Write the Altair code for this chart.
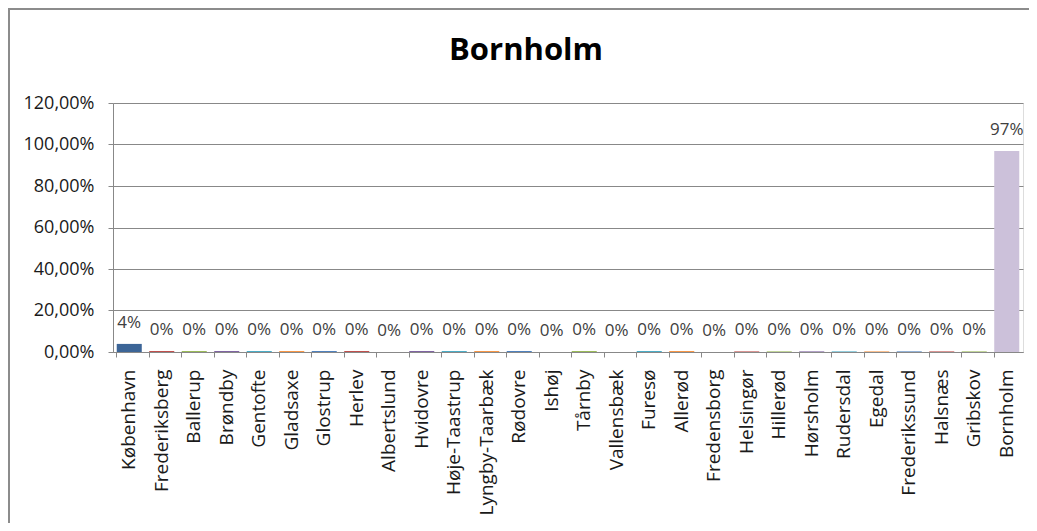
import altair as alt
import pandas as pd

kommuner = ["København", "Frederiksberg", "Ballerup", "Brøndby", "Gentofte", "Gladsaxe",
            "Glostrup", "Herlev", "Albertslund", "Hvidovre", "Høje-Taastrup", "Lyngby-Taarbæk",
            "Rødovre", "Ishøj", "Tårnby", "Vallensbæk", "Furesø", "Allerød", "Fredensborg",
            "Helsingør", "Hillerød", "Hørsholm", "Rudersdal", "Egedal", "Frederikssund",
            "Halsnæs", "Gribskov", "Bornholm"]
andel = [0.039, 0.0048, 0.0048, 0.0048, 0.0048, 0.0048,
         0.0048, 0.0048, 0.0, 0.0048, 0.0048, 0.0048,
         0.0048, 0.0, 0.0048, 0.0, 0.0048, 0.0048, 0.0,
         0.0048, 0.0048, 0.0048, 0.0048, 0.0048, 0.0048,
         0.0048, 0.0048, 0.969]
farver = ["#3C6597", "#C0504D", "#9BBB59", "#8064A2", "#4BACC6", "#F79646",
          "#4F81BD", "#C0504D", "#9BBB59", "#8064A2", "#4BACC6", "#F79646",
          "#4F81BD", "#C0504D", "#9BBB59", "#8064A2", "#4BACC6", "#F79646",
          "#95B3D7", "#D99694", "#C3D69B", "#B3A2C7", "#93CDDD", "#FAC090",
          "#95B3D7", "#D99694", "#C3D69B", "#CCC1DA"]
y_ticks = [0, 0.2, 0.4, 0.6, 0.8, 1.0, 1.2]

df = pd.DataFrame({"kommune": kommuner, "andel": andel, "farve": farver})

FONT = "Open Sans"
W, H = 910, 249
PAD = {"left": 105, "top": 95, "right": 6, "bottom": 171}

x_enc = alt.X("kommune:N", sort=kommuner, title=None,
              scale=alt.Scale(paddingInner=0.23, paddingOuter=0.115),
              axis=alt.Axis(labelAngle=-90, labelAlign="right", labelBaseline="middle",
                            labelFontSize=19, labelFont=FONT, labelColor="#1a1a1a",
                            labelPadding=12, tickSize=5, tickColor="#888888",
                            domainColor="#888888", bandPosition=0,
                            grid=False, labelOverlap=False))
y_enc = alt.Y("andel:Q", title=None,
              scale=alt.Scale(domain=[0, 1.2], nice=False),
              axis=alt.Axis(values=y_ticks,
                            labelExpr="replace(format(datum.value, '.2%'), '.', ',')",
                            labelFontSize=18, labelFont=FONT, labelColor="#1a1a1a",
                            labelPadding=14, tickSize=5, tickColor="#888888",
                            domainColor="#888888", gridColor="#888888", grid=True))

bars = alt.Chart(df).mark_bar().encode(
    x=x_enc, y=y_enc,
    color=alt.Color("farve:N", scale=None),
)

labels = alt.Chart(df).mark_text(baseline="bottom", dy=-12, fontSize=17, font=FONT,
                                 color="#404040").encode(
    x=alt.X("kommune:N", sort=kommuner),
    y="andel:Q",
    text=alt.Text("andel:Q", format=".0%"),
)

frame_src = alt.Data(values=[{"b": 1}])
border_top = alt.Chart(frame_src).mark_rule(stroke="#8c8c8c", strokeWidth=2).encode(
    x=alt.value(-PAD["left"]), x2=alt.value(W + PAD["right"]),
    y=alt.value(-PAD["top"] + 1),
)
border_left = alt.Chart(frame_src).mark_rule(stroke="#8c8c8c", strokeWidth=2).encode(
    x=alt.value(-PAD["left"] + 1),
    y=alt.value(-PAD["top"]), y2=alt.value(H + PAD["bottom"]),
)

chart = alt.layer(border_top, border_left, bars, labels).properties(
    width=W, height=H,
    title=alt.TitleParams("Bornholm", font=FONT, fontSize=31, fontWeight="bold",
                          color="#000000", anchor="middle", dx=-42, offset=-84,
                          frame="group", baseline="alphabetic"),
    autosize=alt.AutoSizeParams(type="none"),
    padding=PAD,
).configure_view(stroke=None).configure(background="white")

chart.save("out.html", embed_options={"renderer": "svg", "actions": False})
